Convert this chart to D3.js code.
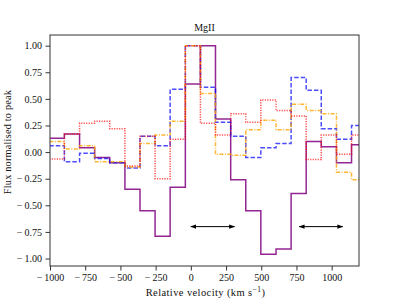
<!DOCTYPE html>
<html>
<head>
<meta charset="utf-8">
<script src="https://cdn.jsdelivr.net/npm/d3@7"></script>
<style>
  body { margin: 0; background: #fff; }
  text { font-family: "Liberation Serif", "DejaVu Serif", serif; fill: #111; }
</style>
</head>
<body>
<div id="chart"></div>
<script>
// bin edges in km/s (one more than values)
var binEdges = [-1005, -898, -790, -683, -576, -468, -361, -254, -147, -39, 68,
    175, 283, 390, 497, 605, 712, 819, 926, 1034, 1141, 1248];

var purpleFlux = [0.13, 0.17, 0.04, -0.05, -0.10, -0.35, -0.55, -0.79, -0.33, 0.64, 1.00,
    0.31, -0.26, -0.55, -0.96, -0.91, -0.39, 0.10, 0.05, -0.10, 0.07];
var blueFlux = [0.06, -0.09, -0.01, -0.06, -0.10, -0.15, 0.15, 0.06, 0.59, 1.00, 0.61,
    0.28, 0.15, -0.05, 0.04, 0.08, 0.70, 0.58, 0.22, 0.12, 0.25];
var orangeFlux = [0.10, 0.03, 0.06, -0.09, -0.09, -0.14, 0.08, 0.16, 0.29, 1.00, 0.55,
    -0.02, -0.03, 0.21, 0.30, 0.21, 0.45, 0.39, 0.36, -0.19, -0.26];
var redFlux = [-0.065, 0.17, 0.27, 0.29, 0.22, -0.13, 0.15, -0.25, 0.12, 1.00, 0.27,
    0.16, 0.36, 0.28, 0.49, 0.39, 0.34, -0.07, 0.16, -0.02, 0.16];

var arrowStarts = [0, 769];
var arrowEnds = [310, 1079];
var arrowLevel = -0.70;

var xTicks = [-1000, -750, -500, -250, 0, 250, 500, 750, 1000];
var yTicks = [-1.00, -0.75, -0.50, -0.25, 0.00, 0.25, 0.50, 0.75, 1.00];

var width = 399, height = 299;
var plotL = 50, plotR = 359, plotT = 35, plotB = 266;

var svg = d3.select("#chart").append("svg")
    .attr("width", width)
    .attr("height", height);

var x = d3.scaleLinear().domain([-1000, 1194]).range([plotL, plotR]);
var y = d3.scaleLinear().domain([-1.07, 1.10]).range([plotB, plotT]);

var defs = svg.append("defs");
defs.append("clipPath").attr("id", "plotclip")
    .append("rect")
    .attr("x", plotL).attr("y", plotT)
    .attr("width", plotR - plotL).attr("height", plotB - plotT);

defs.append("marker")
    .attr("id", "head")
    .attr("viewBox", "0 0 10 10")
    .attr("refX", 9).attr("refY", 5)
    .attr("markerWidth", 6).attr("markerHeight", 6)
    .attr("orient", "auto-start-reverse")
    .append("path")
    .attr("d", "M0,1.5 L10,5 L0,8.5 Z")
    .attr("fill", "#000");

var stepLine = d3.line()
    .x(function (d) { return x(d[0]); })
    .y(function (d) { return y(d[1]); })
    .curve(d3.curveStepAfter);

function stepPoints(vals) {
    var pts = vals.map(function (v, i) { return [binEdges[i], v]; });
    pts.push([binEdges[vals.length], vals[vals.length - 1]]);
    return pts;
}

var series = [
    { vals: purpleFlux, color: "#800080", dash: null, opacity: 0.85 },
    { vals: blueFlux, color: "#0000ff", dash: "4.5,2", opacity: 0.7 },
    { vals: orangeFlux, color: "#ffa500", dash: "4,1.5,1,1.5", opacity: 0.8 },
    { vals: redFlux, color: "#ff0000", dash: "1.2,1.3", opacity: 0.7 }
];

var plot = svg.append("g").attr("clip-path", "url(#plotclip)");

series.forEach(function (s) {
    plot.append("path")
        .datum(stepPoints(s.vals))
        .attr("d", stepLine)
        .attr("fill", "none")
        .attr("stroke", s.color)
        .attr("stroke-opacity", s.opacity)
        .attr("stroke-width", 1.5)
        .attr("stroke-dasharray", s.dash);
});

// doublet arrows
arrowStarts.forEach(function (a, i) {
    svg.append("line")
        .attr("x1", x(a)).attr("x2", x(arrowEnds[i]))
        .attr("y1", y(arrowLevel)).attr("y2", y(arrowLevel))
        .attr("stroke", "#000")
        .attr("stroke-width", 1)
        .attr("marker-start", "url(#head)")
        .attr("marker-end", "url(#head)");
});

// frame
svg.append("rect")
    .attr("x", plotL).attr("y", plotT)
    .attr("width", plotR - plotL).attr("height", plotB - plotT)
    .attr("fill", "none")
    .attr("stroke", "#333")
    .attr("stroke-width", 1);

// tex-like minus with a little gap after it
function texNum(fmt) {
    var f = d3.format(fmt);
    return function (d) {
        var s = f(Math.abs(d));
        return d < 0 ? "\u2212\u2009" + s : s;
    };
}

var xAxis = svg.append("g")
    .attr("transform", "translate(0," + plotB + ")")
    .call(d3.axisBottom(x).tickValues(xTicks).tickSize(4.5).tickPadding(3).tickFormat(texNum("d")));
var yAxis = svg.append("g")
    .attr("transform", "translate(" + plotL + ",0)")
    .call(d3.axisLeft(y).tickValues(yTicks).tickSize(4.5).tickPadding(3.5).tickFormat(texNum(".2f")));

[xAxis, yAxis].forEach(function (g) {
    g.select(".domain").remove();
    g.selectAll(".tick line").attr("stroke", "#333");
    g.selectAll(".tick text")
        .attr("font-size", 10)
        .style("font-family", "'Liberation Serif', serif")
        .attr("fill", "#111");
});

svg.append("text")
    .attr("x", (plotL + plotR) / 2 + 1)
    .attr("y", 296)
    .attr("text-anchor", "middle")
    .attr("font-size", 10.5)
    .attr("letter-spacing", 0.4)
    .html("Relative velocity (km s<tspan dy='-4' font-size='7.5'>−1</tspan><tspan dy='4'>)</tspan>");

svg.append("text")
    .attr("transform", "translate(11,142) rotate(-90)")
    .attr("text-anchor", "middle")
    .attr("font-size", 10.3)
    .attr("letter-spacing", 0.2)
    .text("Flux normalised to peak");

svg.append("text")
    .attr("x", (plotL + plotR) / 2)
    .attr("y", 31)
    .attr("text-anchor", "middle")
    .attr("font-size", 10)
    .text("MgII");
</script>
</body>
</html>
